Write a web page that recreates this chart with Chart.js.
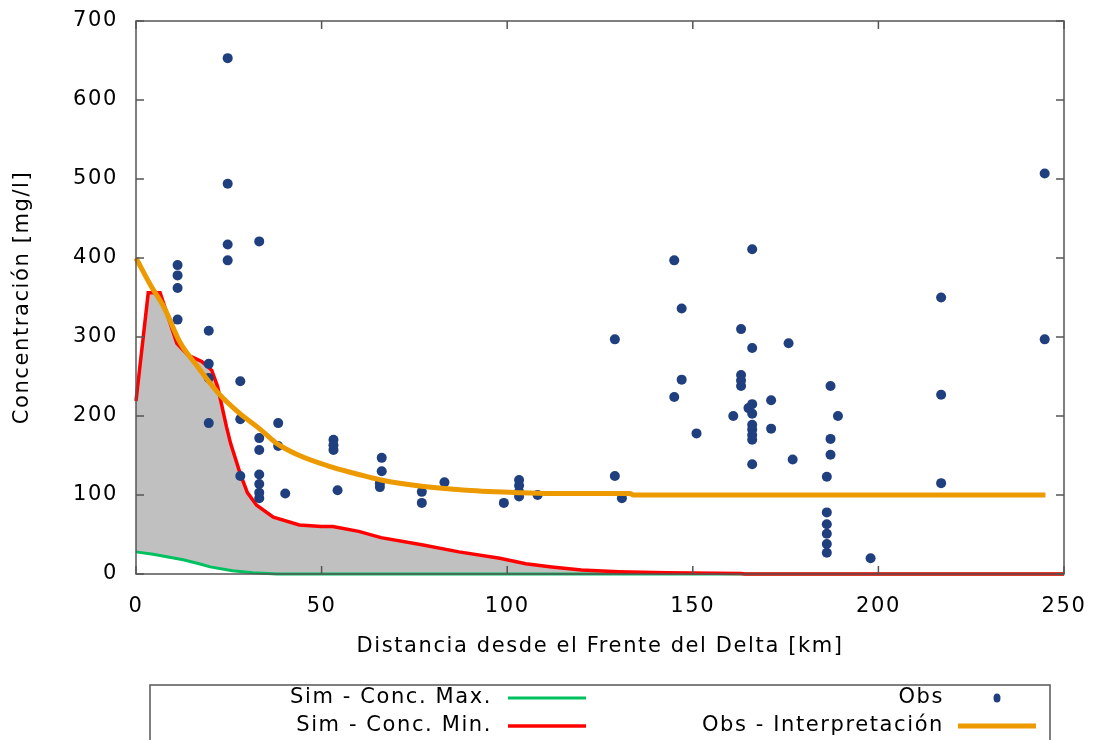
<!DOCTYPE html>
<html>
<head>
<meta charset="utf-8">
<script src="https://cdn.jsdelivr.net/npm/chart.js@4.4.0/dist/chart.umd.min.js"></script>
<style>
  body { margin: 0; background: #fff; }
  #wrap { width: 1097px; height: 740px; position: relative; }
</style>
</head>
<body>
<div id="wrap"><canvas id="chart"></canvas></div>
<script>
// tick labels
const xTicks = [0, 50, 100, 150, 200, 250];
const yTicks = [0, 100, 200, 300, 400, 500, 600, 700];

// Sim - Conc. Max. (green)
const maxKm = [0, 4.6, 12.7, 17, 20, 26, 31.5, 38, 250];
const maxConc = [28, 25, 18, 13, 9, 4, 1.7, 0, 0];

// Sim - Conc. Min. (red)
const minKm = [0, 3.3, 6.5, 11, 14, 17.7, 20.4, 22, 24.4, 25.5, 28, 30, 32.5, 37, 44, 50, 53, 60, 66, 77, 87, 98, 105, 112, 120, 130, 143, 163, 164, 250];
const minConc = [219, 356, 356, 292, 277, 269, 258, 237, 186, 165, 128, 103, 87, 72, 62, 60, 60, 54, 46, 37, 28, 20, 13, 9, 5, 3, 1.5, 0.5, 0, 0];

// Obs
const obsKm = [
  11.2, 11.2, 11.2, 11.2,
  19.6, 19.6, 19.6, 19.6,
  24.7, 24.7, 24.7, 24.7,
  28.1, 28.1, 28.1,
  33.2, 33.2, 33.2, 33.2, 33.2, 33.2, 33.2,
  38.3, 38.3, 40.2,
  53.2, 53.2, 53.2, 54.3,
  66.2, 66.2, 65.7, 65.7,
  77, 77, 83.1, 99.1,
  103.2, 103.2, 103.2, 103.2, 108.2,
  129, 129, 130.9,
  145, 145, 147, 147, 151, 160.9,
  163, 163, 163, 163, 165,
  166, 166, 166, 166, 166, 166, 166, 166, 166,
  171.1, 171.1, 175.8, 176.9,
  186.1, 186.1, 186.1, 186.1, 186.1, 186.1,
  187.1, 187.1, 187.1, 189.1, 197.9,
  216.9, 216.9, 216.9,
  244.8, 244.8
];
const obsConc = [
  391, 378, 362, 322,
  308, 266, 248, 191,
  653, 494, 417, 397,
  244, 196, 124,
  421, 172, 157, 126, 114, 103, 96,
  191, 162, 102,
  170, 163, 157, 106,
  147, 130, 115, 110,
  104, 90, 116, 90,
  119, 112, 104, 98, 100,
  297, 124, 96,
  397, 224, 336, 246, 178, 200,
  310, 252, 245, 238, 210,
  411, 286, 215, 203, 189, 183, 176, 170, 139,
  220, 184, 292, 145,
  123, 78, 63, 51, 38, 27,
  238, 171, 151, 200, 20,
  350, 227, 115,
  507, 297
];

// Obs - Interpretación (orange)
const interpKm = [0, 4, 7.5, 12, 16, 22, 28, 33, 38, 44, 53, 60, 66, 77, 89, 103, 112, 133, 134, 245];
const interpConc = [400, 365, 338, 292, 266, 230, 203, 185, 165, 150, 135, 126, 119, 111, 106, 103, 102, 102, 100, 100];

const pairs = (xs, ys) => xs.map((x, i) => ({ x: x, y: ys[i] }));

// gnuplot text is a bit wider than DejaVu at the same height
const spacingPlugin = {
    id: 'spacing',
    beforeDraw(chart) {
        chart.ctx.letterSpacing = '1.6px';
    }
};

const framePlugin = {
    id: 'frame',
    afterDatasetsDraw(chart) {
        const { ctx, chartArea: a, scales: { x, y } } = chart;
        ctx.save();
        ctx.strokeStyle = '#555';
        ctx.lineWidth = 1.5;
        ctx.strokeRect(a.left, a.top, a.right - a.left, a.bottom - a.top);
        ctx.beginPath();
        for (const v of xTicks) {
            const px = x.getPixelForValue(v);
            ctx.moveTo(px, a.bottom); ctx.lineTo(px, a.bottom - 8);
            ctx.moveTo(px, a.top); ctx.lineTo(px, a.top + 8);
        }
        for (const v of yTicks) {
            const py = y.getPixelForValue(v);
            ctx.moveTo(a.left, py); ctx.lineTo(a.left + 8, py);
            ctx.moveTo(a.right, py); ctx.lineTo(a.right - 8, py);
        }
        ctx.stroke();
        ctx.restore();
    }
};

const keyPlugin = {
    id: 'key',
    afterDraw(chart) {
        const ctx = chart.ctx;
        ctx.save();
        ctx.strokeStyle = '#555';
        ctx.lineWidth = 1.5;
        ctx.strokeRect(150, 685, 900, 80);
        ctx.font = '21px "DejaVu Sans"';
        ctx.letterSpacing = '1.6px';
        ctx.fillStyle = '#000';
        ctx.textAlign = 'right';
        ctx.textBaseline = 'middle';
        const spots = [
            { tx: 492, sx: 508, y: 698 },
            { tx: 492, sx: 508, y: 726 },
            { tx: 944, sx: 958, y: 698 },
            { tx: 944, sx: 958, y: 726 }
        ];
        chart.data.datasets.forEach((ds, i) => {
            const s = spots[i];
            ctx.fillText(ds.label, s.tx, s.y);
            if (ds.showLine === false) {
                ctx.fillStyle = ds.backgroundColor;
                ctx.beginPath();
                ctx.ellipse(s.sx + 39, s.y, 3.5, 4.5, 0, 0, Math.PI * 2);
                ctx.fill();
                ctx.fillStyle = '#000';
            } else {
                ctx.strokeStyle = ds.borderColor;
                ctx.lineWidth = ds.borderWidth;
                ctx.beginPath();
                ctx.moveTo(s.sx, s.y);
                ctx.lineTo(s.sx + 78, s.y);
                ctx.stroke();
            }
        });
        ctx.restore();
    }
};

Chart.defaults.font.family = '"DejaVu Sans", sans-serif';
Chart.defaults.font.size = 21;
Chart.defaults.color = '#000';

const ctx = document.getElementById('chart').getContext('2d');
new Chart(ctx, {
    type: 'scatter',
    data: {
        datasets: [
            {
                label: 'Sim - Conc. Max.',
                data: pairs(maxKm, maxConc),
                showLine: true,
                borderColor: '#00c060',
                borderWidth: 3,
                pointRadius: 0,
                tension: 0,
                clip: 4,
                order: 3
            },
            {
                label: 'Sim - Conc. Min.',
                data: pairs(minKm, minConc),
                showLine: true,
                borderColor: '#ff0000',
                borderWidth: 3.5,
                backgroundColor: '#c0c0c0',
                fill: 0,
                pointRadius: 0,
                tension: 0,
                clip: 4,
                order: 2
            },
            {
                label: 'Obs',
                data: pairs(obsKm, obsConc),
                showLine: false,
                backgroundColor: '#1f3f7f',
                borderWidth: 0,
                pointRadius: 5,
                order: 1
            },
            {
                label: 'Obs - Interpretación',
                data: pairs(interpKm, interpConc),
                showLine: true,
                borderColor: '#ec9a00',
                borderWidth: 5,
                pointRadius: 0,
                cubicInterpolationMode: 'monotone',
                clip: 4,
                order: 0
            }
        ]
    },
    options: {
        responsive: true,
        maintainAspectRatio: false,
        animation: false,
        layout: { padding: { top: 21, right: 33, bottom: 71, left: 0 } },
        plugins: {
            legend: { display: false },
            tooltip: { enabled: false },
            filler: { drawTime: 'beforeDatasetsDraw' }
        },
        scales: {
            x: {
                type: 'linear',
                min: 0,
                max: 250,
                afterBuildTicks: (scale) => { scale.ticks = xTicks.map(v => ({ value: v })); },
                afterFit: (scale) => {
                    scale.height = 95;
                    scale.paddingLeft = 0;
                    scale.paddingRight = 0;
                },
                grid: { display: false, drawTicks: false },
                border: { display: false },
                ticks: { padding: 20 },
                title: { display: true, text: 'Distancia desde el Frente del Delta [km]', padding: { top: 0, bottom: 10 } }
            },
            y: {
                type: 'linear',
                min: 0,
                max: 700,
                afterBuildTicks: (scale) => { scale.ticks = yTicks.map(v => ({ value: v })); },
                afterFit: (scale) => {
                    scale.width = 136;
                    scale.paddingTop = 0;
                    scale.paddingBottom = 0;
                },
                grid: { display: false, drawTicks: false },
                border: { display: false },
                ticks: { padding: 18 },
                title: { display: true, text: 'Concentración [mg/l]', padding: { top: 10, bottom: 0 } }
            }
        }
    },
    plugins: [spacingPlugin, framePlugin, keyPlugin]
});
</script>
</body>
</html>
